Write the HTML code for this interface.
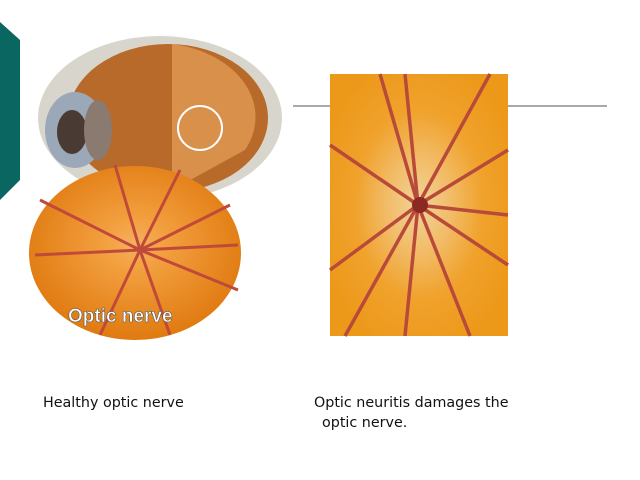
<!DOCTYPE html>
<html><head><style>
html,body{margin:0;padding:0;background:#fff;}
body{width:640px;height:480px;position:relative;overflow:hidden;font-family:"DejaVu Sans","Liberation Sans",sans-serif;}
.t{position:absolute;font-size:14.3px;color:#111;white-space:nowrap;}
</style></head><body>
<svg width="640" height="480" style="position:absolute;left:0;top:0">
<defs>
<radialGradient id="o1" cx="0.5" cy="0.45" r="0.55"><stop offset="0" stop-color="#f5b060"/><stop offset="0.25" stop-color="#f3a040"/><stop offset="1" stop-color="#e07a10"/></radialGradient>
<radialGradient id="o2" cx="0.5" cy="0.5" r="0.6"><stop offset="0" stop-color="#f0d49a"/><stop offset="0.3" stop-color="#f2bc68"/><stop offset="0.6" stop-color="#f0a22c"/><stop offset="1" stop-color="#ec9818"/></radialGradient>
</defs>
<path d="M0 22 L20 40 L20 180 L0 200 Z" fill="#0a6660"/>
<line x1="293" y1="106" x2="330" y2="106" stroke="#555" stroke-width="1"/>
<line x1="508" y1="106" x2="607" y2="106" stroke="#555" stroke-width="1"/>
<ellipse cx="160" cy="118" rx="122" ry="82" fill="#d8d6cc"/>
<ellipse cx="168" cy="118" rx="100" ry="74" fill="#b86a2a"/>
<path d="M172 44 A100 74 0 0 1 245 150 L172 190 Z" fill="#d8904a"/>
<ellipse cx="75" cy="130" rx="30" ry="38" fill="#9aa8b8"/>
<ellipse cx="72" cy="132" rx="15" ry="22" fill="#4a3a34"/>
<ellipse cx="98" cy="130" rx="14" ry="30" fill="#8a7a70"/>
<circle cx="200" cy="128" r="22" fill="none" stroke="#fff" stroke-width="2"/>
<ellipse cx="135" cy="253" rx="106" ry="87" fill="url(#o1)"/>
<g stroke="#c04a3a" stroke-width="3" fill="none">
<path d="M140 250 L115 165"/><path d="M140 250 L180 170"/><path d="M140 250 L230 205"/><path d="M140 250 L40 200"/><path d="M140 250 L35 255"/><path d="M140 250 L100 335"/><path d="M140 250 L170 335"/><path d="M140 250 L238 290"/><path d="M140 250 L238 245"/>
</g>
<text x="68" y="322" font-family="Liberation Sans,sans-serif" font-size="19" font-weight="bold" fill="#fff" stroke="#555" stroke-width="0.6">Optic nerve</text>
<rect x="330" y="74" width="178" height="262" fill="url(#o2)"/>
<g stroke="#b84a3a" stroke-width="3.5" fill="none">
<path d="M418 205 L380 74"/><path d="M418 205 L405 74"/><path d="M418 205 L490 74"/><path d="M418 205 L508 150"/><path d="M418 205 L508 215"/><path d="M418 205 L508 265"/><path d="M418 205 L470 336"/><path d="M418 205 L405 336"/><path d="M418 205 L345 336"/><path d="M418 205 L330 270"/><path d="M418 205 L330 145"/>
</g>
<circle cx="420" cy="205" r="8" fill="#8a2a20"/>
</svg>
<div class="t" style="left:43px;top:395px">Healthy optic nerve</div>
<div class="t" style="left:314px;top:395px">Optic neuritis damages the</div>
<div class="t" style="left:322px;top:415px">optic nerve.</div>
</body></html>
